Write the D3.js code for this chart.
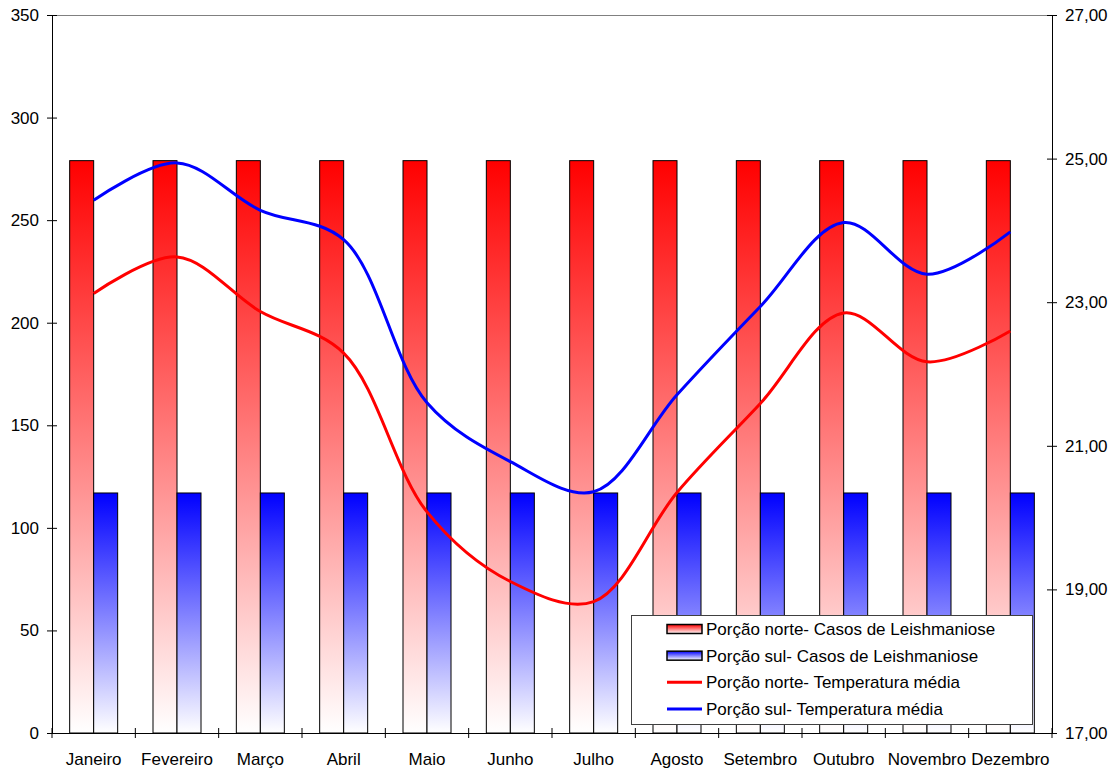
<!DOCTYPE html>
<html>
<head>
<meta charset="utf-8">
<script src="https://cdn.jsdelivr.net/npm/d3@7"></script>
<style>
  html, body { margin: 0; padding: 0; background: #fff; }
  svg { display: block; font-family: "Liberation Sans", Arial, sans-serif; }
</style>
</head>
<body>
<svg id="chart" width="1115" height="769"></svg>
<script>
// ---- data ----
const months = ["Janeiro","Fevereiro","Março","Abril","Maio","Junho","Julho","Agosto","Setembro","Outubro","Novembro","Dezembro"];
const casosNorte = [279,279,279,279,279,279,279,279,279,279,279,279];
const casosSul   = [117,117,117,117,117,117,117,117,117,117,117,117];
const tempNorte  = [23.12,23.63,22.87,22.29,20.08,19.11,18.83,20.35,21.59,22.85,22.17,22.60];
const tempSul    = [24.42,24.94,24.28,23.87,21.60,20.78,20.36,21.71,22.94,24.11,23.39,23.98];
const leftTicks  = [0,50,100,150,200,250,300,350];
const rightTicks = [17,19,21,23,25,27];
const legendLabels = [
  "Porção norte- Casos de Leishmaniose",
  "Porção sul- Casos de Leishmaniose",
  "Porção norte- Temperatura média",
  "Porção sul- Temperatura média"
];

// ---- layout ----
const L = 52, R = 1052, T = 15, B = 733;
const svg = d3.select("#chart");

const x = d3.scaleBand().domain(months).range([L, R]).padding(0);
const yL = d3.scaleLinear().domain([0, 350]).range([B, T]);
const yR = d3.scaleLinear().domain([17, 27]).range([B, T]);
const barW = x.bandwidth() * 0.288;
const xInner = d3.scaleBand().domain(["norte","sul"]).range([0, barW * 2]);

// gradients
const defs = svg.append("defs");
function grad(id, color) {
  const g = defs.append("linearGradient").attr("id", id)
    .attr("x1", 0).attr("y1", 0).attr("x2", 0).attr("y2", 1);
  g.append("stop").attr("offset", "0%").attr("stop-color", color);
  g.append("stop").attr("offset", "100%").attr("stop-color", "#ffffff");
}
grad("gRed", "#ff0000");
grad("gBlue", "#0000ff");

// top frame line
svg.append("line").attr("x1", L).attr("x2", R).attr("y1", T + 0.5).attr("y2", T + 0.5)
  .attr("stroke", "#808080").attr("stroke-width", 1);

// bars
const groupOffset = (x.bandwidth() - barW * 2) / 2;
svg.append("g").selectAll("rect").data(months).join("rect")
  .attr("x", m => x(m) + groupOffset + xInner("norte"))
  .attr("y", (m, i) => yL(casosNorte[i]))
  .attr("width", xInner.bandwidth())
  .attr("height", (m, i) => yL(0) - yL(casosNorte[i]))
  .attr("fill", "url(#gRed)").attr("stroke", "#000").attr("stroke-width", 1);
svg.append("g").selectAll("rect").data(months).join("rect")
  .attr("x", m => x(m) + groupOffset + xInner("sul"))
  .attr("y", (m, i) => yL(casosSul[i]))
  .attr("width", xInner.bandwidth())
  .attr("height", (m, i) => yL(0) - yL(casosSul[i]))
  .attr("fill", "url(#gBlue)").attr("stroke", "#000").attr("stroke-width", 1);

// lines
const line = d3.line()
  .x((d, i) => x(months[i]) + x.bandwidth() / 2)
  .y(d => yR(d))
  .curve(d3.curveCatmullRom.alpha(0.5));
svg.append("path").datum(tempNorte).attr("d", line)
  .attr("fill", "none").attr("stroke", "#ff0000").attr("stroke-width", 3);
svg.append("path").datum(tempSul).attr("d", line)
  .attr("fill", "none").attr("stroke", "#0000ff").attr("stroke-width", 3);

// axes
const fmtComma = d => d3.format(".2f")(d).replace(".", ",");

const axL = svg.append("g").attr("transform", `translate(${L},0)`)
  .call(d3.axisLeft(yL).tickValues(leftTicks).tickSize(5).tickPadding(8));
axL.selectAll(".tick line").attr("x1", -5).attr("x2", 5);
const axR = svg.append("g").attr("transform", `translate(${R},0)`)
  .call(d3.axisRight(yR).tickValues(rightTicks).tickFormat(fmtComma).tickSize(5).tickPadding(8));
axR.selectAll(".tick line").attr("x1", -5).attr("x2", 5);
const axB = svg.append("g").attr("transform", `translate(0,${B})`)
  .call(d3.axisBottom(x).tickSize(0).tickPadding(0));
axB.selectAll(".tick text").attr("y", 32).attr("dy", 0);

// boundary ticks on x axis
svg.append("g").selectAll("line").data(months)
  .join("line")
  .attr("x1", m => x(m) + x.step())
  .attr("x2", m => x(m) + x.step())
  .attr("y1", B - 5).attr("y2", B + 5)
  .attr("stroke", "#000");
svg.append("line").attr("x1", L).attr("x2", L).attr("y1", B - 5).attr("y2", B + 5).attr("stroke", "#000");

[axL, axR, axB].forEach(a => {
  a.selectAll("text").attr("font-size", 17).attr("fill", "#000")
    .attr("font-family", "'Liberation Sans', Arial, sans-serif");
  a.selectAll("path.domain, line").attr("stroke", "#000");
});

// legend
const lg = svg.append("g");
lg.append("rect").attr("x", 631.5).attr("y", 615.5).attr("width", 401).attr("height", 109)
  .attr("fill", "#fff").attr("stroke", "#404040").attr("stroke-width", 1);
const rowY = d3.scalePoint().domain(legendLabels).range([629, 709]);
const symFill = ["url(#gRed)", "url(#gBlue)"];
const lineCol = ["#ff0000", "#0000ff"];
legendLabels.forEach((lab, i) => {
  const cy = rowY(lab);
  if (i < 2) {
    lg.append("rect").attr("x", 667).attr("y", cy - 4.5).attr("width", 35).attr("height", 9)
      .attr("fill", symFill[i]).attr("stroke", "#000").attr("stroke-width", 1.5);
  } else {
    lg.append("line").attr("x1", 667).attr("x2", 702).attr("y1", cy).attr("y2", cy)
      .attr("stroke", lineCol[i - 2]).attr("stroke-width", 3);
  }
  lg.append("text").attr("x", 706).attr("y", cy).attr("dy", "0.36em")
    .attr("font-size", 17).attr("fill", "#000").text(lab);
});
</script>
</body>
</html>
